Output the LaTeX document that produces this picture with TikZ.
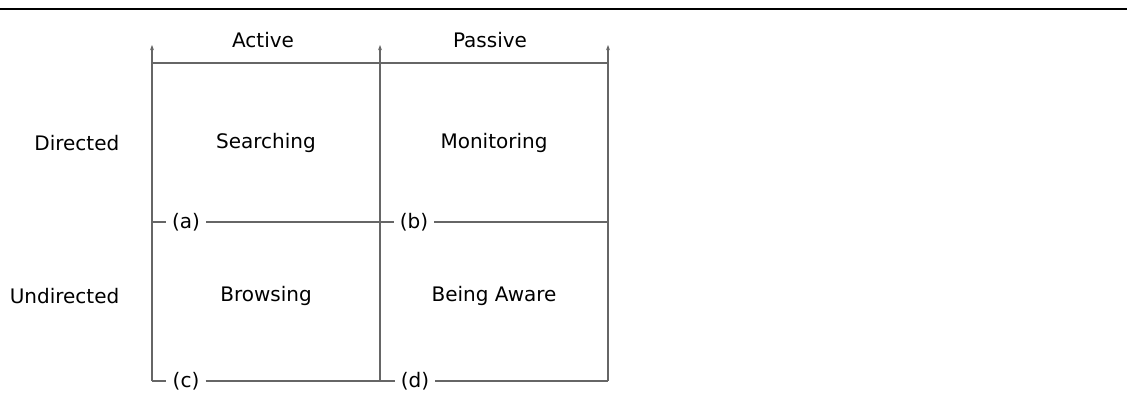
\documentclass[tikz,border=0pt]{standalone}
\usepackage{fontspec}
\setmainfont{DejaVu Sans}
\usetikzlibrary{arrows.meta}

\begin{document}
\begin{tikzpicture}[x=0.75pt,y=-0.75pt,font=\fontsize{15}{18}\selectfont]
            % Define the positions of the columns and rows
            \def\xl{152}  % left edge
            \def\xm{380}  % middle
            \def\xr{608}  % right edge
            \def\yt{63}   % top rule
            \def\ym{222}  % middle rule
            \def\yb{381}  % bottom rule
            \tikzset{rule/.style={draw=black!60,line width=0.9pt},
                     axis/.style={rule,-{Stealth[length=4pt,width=3pt]}},
                     tag/.style={inner sep=4.5pt}}

            \useasboundingbox (0,0) rectangle (1127,394);

            % Page rule
            \draw[line width=2.2pt] (0,9) -- (1127,9);

            % Corner coordinates
            \coordinate (L0) at (\xl,\yb);
            \coordinate (M0) at (\xm,\yb);
            \coordinate (R0) at (\xr,\yb);
            \coordinate (L2) at (\xl,45);
            \coordinate (M2) at (\xm,45);
            \coordinate (R2) at (\xr,45);
            \coordinate (L1) at (\xl,\ym);
            \coordinate (M1) at (\xm,\ym);
            \coordinate (R1) at (\xr,\ym);

            % Draw the vertical axes
            \draw[axis] (L0) -- (L2);
            \draw[axis] (M0) -- (M2);
            \draw[axis] (R0) -- (R2);
            \draw[rule] (\xl,\yt) -- (\xr,\yt);

            % Draw the row rules with their tags
            \node[tag] (a) at (186,\ym) {(a)};
            \node[tag] (b) at (414,\ym) {(b)};
            \node[tag] (c) at (186,\yb) {(c)};
            \node[tag] (d) at (415,\yb) {(d)};
            \draw[rule] (L1) -- (a.west);
            \draw[rule] (a.east) -- (M1) -- (b.west);
            \draw[rule] (b.east) -- (R1);
            \draw[rule] (L0) -- (c.west);
            \draw[rule] (c.east) -- (M0) -- (d.west);
            \draw[rule] (d.east) -- (R0);

            % Column and row headings
            \node (active) at (263,40) {Active};
            \node (passive) at (490,40) {Passive};
            \node[anchor=east] (directed) at (124,143) {Directed};
            \node[anchor=east] (undirected) at (124,296) {Undirected};

            % Cells
            \node (searching) at (266,143) {Searching};
            \node (monitoring) at (494,143) {Monitoring};
            \node (browsing) at (266,296) {Browsing};
            \node (aware) at (494,296) {Being Aware};
\end{tikzpicture}
\end{document}
